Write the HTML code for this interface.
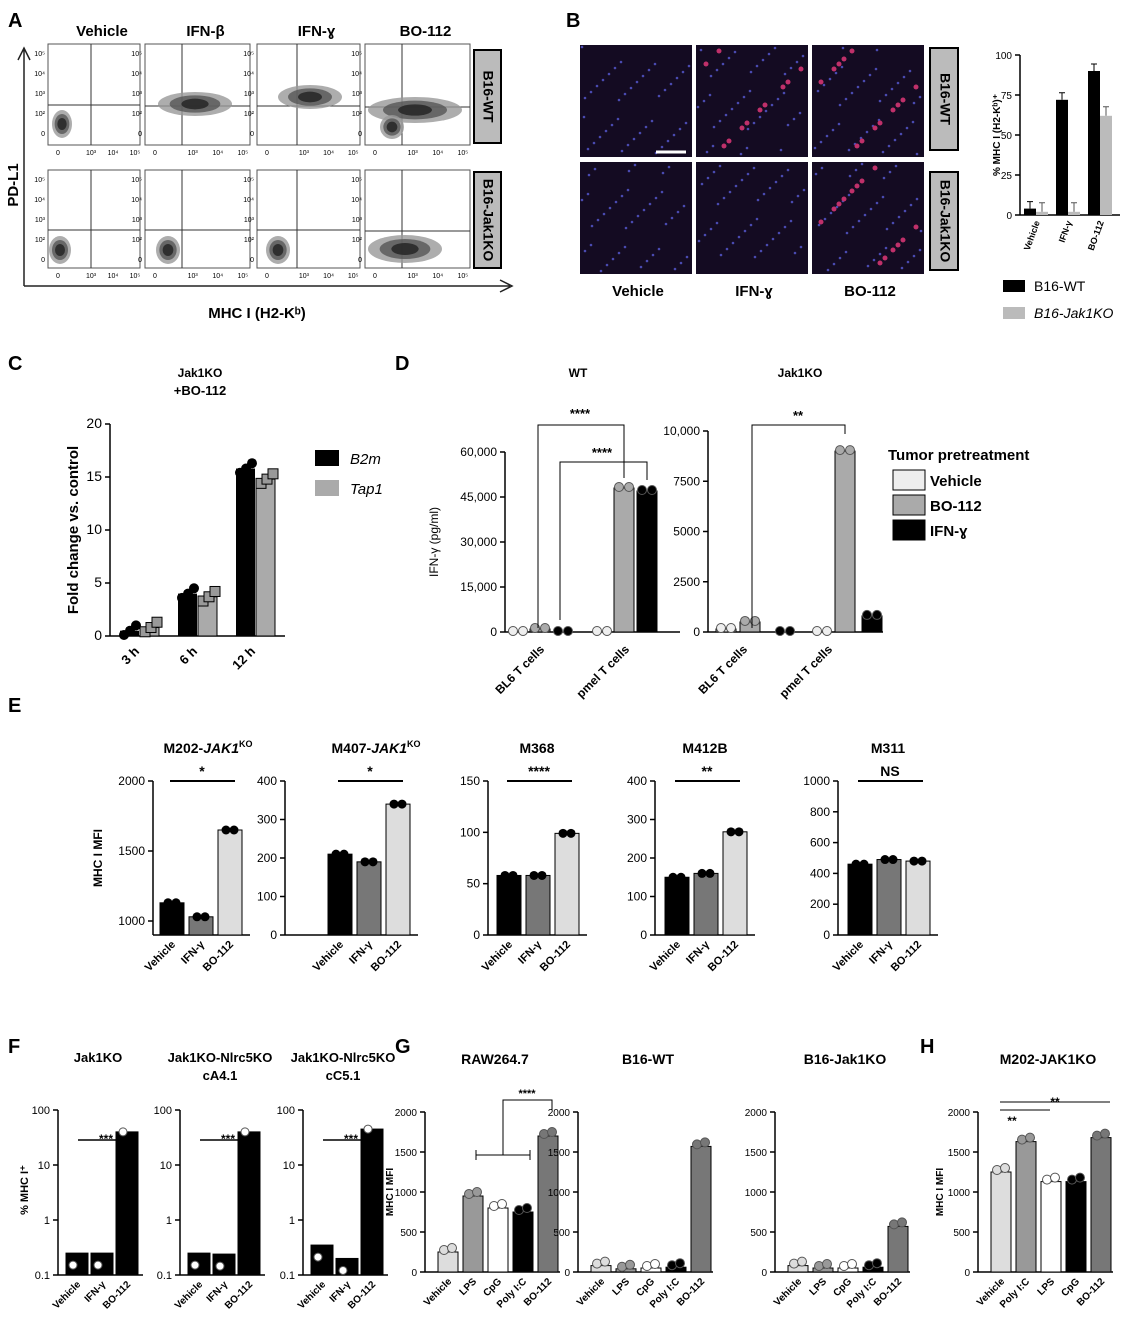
<!DOCTYPE html>
<html><head><meta charset="utf-8"><style>
body{margin:0;background:#fff;}
svg{display:block;font-family:"Liberation Sans",Arial,sans-serif;}
text{font-family:"Liberation Sans",Arial,sans-serif;}
</style></head><body>
<svg id="fig" width="1134" height="1331" viewBox="0 0 1134 1331" xmlns="http://www.w3.org/2000/svg">
<g id="static" font-weight="bold">
<text x="8" y="27" font-size="20">A</text>
<text x="566" y="27" font-size="20">B</text>
<text x="8" y="370" font-size="20">C</text>
<text x="395" y="370" font-size="20">D</text>
<text x="8" y="712" font-size="20">E</text>
<text x="8" y="1053" font-size="20">F</text>
<text x="395" y="1053" font-size="20">G</text>
<text x="920" y="1053" font-size="20">H</text>
</g>
<g id="dyn"></g>
</svg>
<script>
// ---------- data ----------
const flowCols=["Vehicle","IFN-β","IFN-ɣ","BO-112"];
const bImgCols=["Vehicle","IFN-ɣ","BO-112"];
const bCats=["Vehicle","IFN-γ","BO-112"];
const bWT=[4,72,90];
const bKO=[2,2,62];
const cCats=["3 h","6 h","12 h"];
const cB2m=[0.5,4.0,15.8];
const cTap1=[0.8,3.7,14.8];
const cTicks=[0,5,10,15,20];
const dWTVals=[0,1000,0,0,48000,47000];
const dKOVals=[150,500,0,0,9000,800];
const dWTTicks=[0,15000,30000,45000,60000];
const dWTTickLabels=["0","15,000","30,000","45,000","60,000"];
const dKOTicks=[0,2500,5000,7500,10000];
const dKOTickLabels=["0","2500","5000","7500","10,000"];
const eTitles=[["M202-","JAK1","KO"],["M407-","JAK1","KO"],["M368","",""],["M412B","",""],["M311","",""]];
const eVals1=[1130,1030,1650];
const eVals2=[210,190,340];
const eVals3=[58,58,99];
const eVals4=[150,160,268];
const eVals5=[460,490,480];
const eSig=["*","*","****","**","NS"];
const fVals1=[0.25,0.25,40];
const fVals2=[0.25,0.24,40];
const fVals3=[0.35,0.2,45];
const gCats=["Vehicle","LPS","CpG","Poly I:C","BO-112"];
const gVals1=[250,950,800,750,1700];
const gVals2=[80,40,50,60,1570];
const gVals3=[80,50,50,60,570];
const hCats=["Vehicle","Poly I:C","LPS","CpG","BO-112"];
const hVals=[1250,1630,1130,1130,1680];

const NS="http://www.w3.org/2000/svg";
const root=document.getElementById('dyn');
function el(tag,attrs,parent){const e=document.createElementNS(NS,tag);for(const k in attrs)e.setAttribute(k,attrs[k]);(parent||root).appendChild(e);return e;}
function txt(x,y,s,size,anchor,weight,rot,parent){const t=el('text',{x:x,y:y,'font-size':size,'text-anchor':anchor||'middle','font-weight':weight||'normal'},parent);if(rot)t.setAttribute('transform','rotate('+rot+' '+x+' '+y+')');t.textContent=s;return t;}

// ---------- Panel A ----------
const fx=[48,145,257,365],fw=[92,105,103,105],fy=[44,170],fh=[101,98];
const gates=[[[43,105],[37,106],[40,106],[37,107]],[[43,230],[37,230],[40,230],[37,231]]];
const blobs=[[[[62,124,8,12]],[[195,104,35,10]],[[310,97,30,10]],[[415,110,45,11],[392,127,10,10]]],[[[60,250,9,12]],[[168,250,10,12]],[[278,250,10,12]],[[405,249,35,12]]]];
for(let r=0;r<2;r++)for(let c=0;c<4;c++){
  const g=el('g',{});
  
  
  el('rect',{x:fx[c],y:fy[r],width:fw[c],height:fh[r],fill:'#fff',stroke:'#555','stroke-width':1},g);
  const gx=fx[c]+gates[r][c][0];
  el('line',{x1:gx,y1:fy[r],x2:gx,y2:fy[r]+fh[r],stroke:'#333'},g);
  el('line',{x1:fx[c],y1:gates[r][c][1],x2:fx[c]+fw[c],y2:gates[r][c][1],stroke:'#333'},g);
  blobs[r][c].forEach(b=>{for(let k=3;k>=1;k--)el('ellipse',{cx:b[0],cy:b[1],rx:b[2]*k/3+2,ry:b[3]*k/3+2,fill:['#222','#555','#999'][k-1],opacity:0.8},g);});
  ['10⁵','10⁴','10³','10²','0'].forEach((s,i)=>txt(fx[c]-3,fy[r]+12+i*20,s,7,'end','normal',0,g));
  ['0','10³','10⁴','10⁵'].forEach((s,i)=>txt(fx[c]+10+[0,33,55,77][i]*fw[c]/92,fy[r]+fh[r]+10,s,7,'middle','normal',0,g));
}
flowCols.forEach((s,i)=>{const t=txt(fx[i]+fw[i]/2+8,36,s,15,'middle','bold');});
[['B16-WT',50,143],['B16-Jak1KO',172,268]].forEach(a=>{el('rect',{x:474,y:a[1],width:27,height:a[2]-a[1],fill:'#bbb',stroke:'#000','stroke-width':2});const t=txt(487,(a[1]+a[2])/2,a[0],14,'middle','bold',90);t.setAttribute('dominant-baseline','middle');});
el('path',{d:'M24 286 V50 M18 60 L24 48 L30 60 M24 286 H510 M500 280 L512 286 L500 292',stroke:'#222',fill:'none','stroke-width':1.5});
txt(18,185,'PD-L1',15,'middle','bold',-90);
txt(257,318,'MHC I (H2-Kᵇ)',15,'middle','bold');

// ---------- Panel B images ----------
const bx=[580,696,812],by=[45,162];
const redness=[[0,0.6,0.7],[0,0,0.8]];
for(let r=0;r<2;r++)for(let c=0;c<3;c++){
  const g=el('g',{});
  
  
  el('rect',{x:bx[c],y:by[r],width:112,height:112,fill:'#140b22'},g);
  for(let k=0;k<40;k++){const px=bx[c]+((k*37+c*13+r*7)%108)+2,py=by[r]+((k*53+c*29+r*11)%108)+2;el('circle',{cx:px,cy:py,r:1.3,fill:'#4a4ab0'},g);}
  const n=Math.round(redness[r][c]*18);
  for(let k=0;k<n;k++){const px=bx[c]+((k*41+c*17)%100)+6,py=by[r]+((k*59+r*23)%100)+6;el('circle',{cx:px,cy:py,r:2.5,fill:'#c0306a'},g);}
}
el('line',{x1:656,y1:152,x2:686,y2:152,stroke:'#fff','stroke-width':3});
[['B16-WT',48,150],['B16-Jak1KO',172,270]].forEach(a=>{el('rect',{x:930,y:a[1],width:28,height:a[2]-a[1],fill:'#bbb',stroke:'#000','stroke-width':2});const t=txt(944,(a[1]+a[2])/2,a[0],14,'middle','bold',90);t.setAttribute('dominant-baseline','middle');});
bImgCols.forEach((s,i)=>txt(bx[i]+58,296,s,15,'middle','bold'));

function yAxis(x,yTop,yBot,min,max,ticks,labels,fs,log){
  const Y=v=>log? yBot-(Math.log10(v)-Math.log10(min))/(Math.log10(max)-Math.log10(min))*(yBot-yTop) : yBot-(v-min)/(max-min)*(yBot-yTop);
  el('line',{x1:x,y1:yTop,x2:x,y2:yBot,stroke:'#000','stroke-width':1.5});
  ticks.forEach((t,i)=>{const y=Y(t);el('line',{x1:x-5,y1:y,x2:x,y2:y,stroke:'#000','stroke-width':1.5});const lt=txt(x-8,y+4,labels[i],fs||12,'end');});
  return Y;
}
function bars(x0,w,step,vals,Y,base,fills,xAxisEnd,cats,catFs){
  vals.forEach((v,i)=>{const x=x0+i*step;const r=el('rect',{x:x,y:Y(v),width:w,height:Math.max(0,base-Y(v)),fill:fills[i%fills.length],stroke:'#000','stroke-width':1});
    
    
    if(cats){const t=txt(x+w/2+4,base+10,cats[i],catFs||11,'end','bold',-45);}
  });
}

// ---------- Panel B bar chart ----------
{const Y=yAxis(1020,55,215,0,100,[0,25,50,75,100],['0','25','50','75','100'],10);
 el('line',{x1:1020,y1:215,x2:1120,y2:215,stroke:'#000','stroke-width':1.5});
 bCats.forEach((c,i)=>{const x=1024+i*32;
  const a=el('rect',{x:x,y:Y(bWT[i]),width:12,height:215-Y(bWT[i]),fill:'#000'});
  
  
  const b=el('rect',{x:x+12,y:Y(bKO[i]),width:12,height:215-Y(bKO[i]),fill:'#bbb'});
  
  
  el('path',{d:'M'+(x+6)+' '+Y(bWT[i])+' v-7 m-3 0 h6',stroke:'#000',fill:'none'});
  el('path',{d:'M'+(x+18)+' '+Y(bKO[i])+' v-9 m-3 0 h6',stroke:'#555',fill:'none'});
  txt(x+16,222,c,9,'end','bold',-70);});
 txt(1000,135,'% MHC I (H2-Kᵇ)⁺',10,'middle','bold',-90);
 el('rect',{x:1003,y:280,width:22,height:12,fill:'#000'});txt(1034,291,'B16-WT',14,'start');
 el('rect',{x:1003,y:307,width:22,height:12,fill:'#bbb'});txt(1034,318,'B16-Jak1KO',14,'start').setAttribute('font-style','italic');
}

// ---------- Panel C ----------
{const Y=yAxis(110,424,636,0,20,cTicks,cTicks.map(String),14);
 el('line',{x1:110,y1:636,x2:285,y2:636,stroke:'#000','stroke-width':1.5});
 cCats.forEach((c,i)=>{const x=120+i*58;
  const a=el('rect',{x:x,y:Y(cB2m[i]),width:19,height:636-Y(cB2m[i]),fill:'#000'});
  
  
  const b=el('rect',{x:x+20,y:Y(cTap1[i]),width:19,height:636-Y(cTap1[i]),fill:'#aaa',stroke:'#000'});
  
  
  [-0.4,0,0.5].forEach((d,k)=>{el('circle',{cx:x+4+k*6,cy:Y(cB2m[i]+d),r:5,fill:'#000'});el('rect',{x:x+20+k*6,y:Y(cTap1[i]+d)-5,width:10,height:10,fill:'#999',stroke:'#000'});});
  txt(x+20,652,c,13,'end','bold',-45);});
 txt(78,530,'Fold change vs. control',15,'middle','bold',-90);
 txt(200,377,'Jak1KO',12,'middle','bold');txt(200,395,'+BO-112',13,'middle','bold');
 el('rect',{x:315,y:450,width:24,height:16,fill:'#000'});txt(350,464,'B2m',15,'start').setAttribute('font-style','italic');
 el('rect',{x:315,y:480,width:24,height:16,fill:'#aaa'});txt(350,494,'Tap1',15,'start').setAttribute('font-style','italic');
}

// ---------- Panel D ----------
function dChart(x,yTop,max,ticks,labels,vals,xs,title,tx){
  const Y=yAxis(x,yTop,632,0,max,ticks,labels,12);
  el('line',{x1:x,y1:632,x2:x+175,y2:632,stroke:'#000','stroke-width':1.5});
  const fills=['#eee','#aaa','#000'];
  vals.forEach((v,i)=>{const f=fills[i%3];const r=el('rect',{x:xs[i],y:Y(v),width:20,height:632-Y(v),fill:f,stroke:'#000'});
    
    
    el('circle',{cx:xs[i]+5,cy:Y(v)-1,r:4.5,fill:f,stroke:'#555'});el('circle',{cx:xs[i]+15,cy:Y(v)-1,r:4.5,fill:f,stroke:'#555'});});
  txt(x+40,650,'BL6 T cells',12,'end','bold',-45);txt(x+125,650,'pmel T cells',12,'end','bold',-45);
  txt(tx,377,title,12,'middle','bold');
  return Y;
}
{dChart(505,452,60000,dWTTicks,dWTTickLabels,dWTVals,[508,530,553,592,614,637],'WT',578);
 el('path',{d:'M538 628 V425 H624 V478 M560 620 V462 H647 V480',stroke:'#000',fill:'none'});
 txt(580,418,'****',13,'middle','bold');txt(602,457,'****',13,'middle','bold');
 txt(438,542,'IFN-γ (pg/ml)',12,'middle','normal',-90);
 dChart(708,431,10000,dKOTicks,dKOTickLabels,dKOVals,[716,740,775,812,835,862],'Jak1KO',800);
 el('path',{d:'M752 628 V425 H845 V434',stroke:'#000',fill:'none'});txt(798,420,'**',13,'middle','bold');
 txt(888,460,'Tumor pretreatment',15,'start','bold');
 [['Vehicle','#eee'],['BO-112','#aaa'],['IFN-ɣ','#000']].forEach((a,i)=>{el('rect',{x:893,y:470+i*25,width:32,height:20,fill:a[1],stroke:'#000'});txt(930,486+i*25,a[0],15,'start','bold');});
}

// ---------- Panel E ----------
const eCfg=[[153,900,2000,[1000,1500,2000],eVals1],[285,0,400,[0,100,200,300,400],eVals2],[488,0,150,[0,50,100,150],eVals3],[655,0,400,[0,100,200,300,400],eVals4],[838,0,1000,[0,200,400,600,800,1000],eVals5]];
const eBx=[160,328,497,665,848];
eCfg.forEach((c,k)=>{
  const Y=yAxis(c[0],781,935,c[1],c[2],c[3],c[3].map(String),12);
  el('line',{x1:c[0],y1:935,x2:eBx[k]+90,y2:935,stroke:'#000','stroke-width':1.5});
  bars(eBx[k],24,29,c[4],Y,935,['#000','#777','#ddd'],0,bCats,11);
  c[4].forEach((v,i)=>{el('circle',{cx:eBx[k]+8+i*29,cy:Y(v),r:4.5,fill:'#000'});el('circle',{cx:eBx[k]+16+i*29,cy:Y(v),r:4.5,fill:'#000'});});
  el('line',{x1:eBx[k]+10,y1:781,x2:eBx[k]+75,y2:781,stroke:'#000','stroke-width':2});
  txt(eBx[k]+42,776,eSig[k],14,'middle','bold');
  const t=el('text',{x:eBx[k]+(k<2?48:40),y:753,'font-size':14,'text-anchor':'middle','font-weight':'bold'});
  
  
  const s1=el('tspan',{},t);s1.textContent=eTitles[k][0];
  if(eTitles[k][1]){const s2=el('tspan',{'font-style':'italic'},t);s2.textContent=eTitles[k][1];const s3=el('tspan',{'font-size':9,dy:-6},t);s3.textContent=eTitles[k][2];}
});
txt(102,858,'MHC I MFI',12,'middle','bold',-90);

// ---------- Panel F ----------
const fCfg=[[58,fVals1],[180,fVals2],[303,fVals3]];
const fTitles=[['Jak1KO',''],['Jak1KO-Nlrc5KO','cA4.1'],['Jak1KO-Nlrc5KO','cC5.1']];
fCfg.forEach((c,k)=>{
  const Y=yAxis(c[0],1110,1275,0.1,100,[0.1,1,10,100],['0.1','1','10','100'],11,true);
  el('line',{x1:c[0],y1:1275,x2:c[0]+85,y2:1275,stroke:'#000','stroke-width':1.5});
  bars(c[0]+8,22,25,c[1],Y,1275,['#000'],0,["Vehicle","IFN-γ","BO-112"],10);
  c[1].forEach((v,i)=>{el('circle',{cx:c[0]+15+i*25,cy:i<2?Y(v)+12:Y(v),r:4,fill:i<2?'#fff':'#fff',stroke:'#555'});});
  el('line',{x1:c[0]+20,y1:1140,x2:c[0]+75,y2:1140,stroke:'#000','stroke-width':1.5});txt(c[0]+48,1143,'***',12,'middle','bold');
  txt(c[0]+40,1062,fTitles[k][0],13,'middle','bold');if(fTitles[k][1])txt(c[0]+40,1080,fTitles[k][1],13,'middle','bold');
});
txt(28,1190,'% MHC I⁺',11,'middle','bold',-90);

// ---------- Panel G & H ----------
const gCfg=[[425,gVals1,'RAW264.7',gCats],[578,gVals2,'B16-WT',gCats],[775,gVals3,'B16-Jak1KO',gCats],[978,hVals,'M202-JAK1KO',hCats]];
gCfg.forEach((c,k)=>{
  const Y=yAxis(c[0],1112,1272,0,2000,[0,500,1000,1500,2000],['0','500','1000','1500','2000'],10);
  el('line',{x1:c[0],y1:1272,x2:c[0]+135,y2:1272,stroke:'#000','stroke-width':1.5});
  const fills=['#ddd','#999','#fff','#000','#777'];
  bars(c[0]+13,20,25,c[1],Y,1272,fills,0,c[3],10);
  c[1].forEach((v,i)=>{const cx=c[0]+13+i*25;el('circle',{cx:cx+6,cy:Y(v)-2,r:4.5,fill:fills[i],stroke:'#555'});el('circle',{cx:cx+14,cy:Y(v)-4,r:4.5,fill:fills[i],stroke:'#555'});});
  txt(c[0]+70,1064,c[2],14,'middle','bold');
});
txt(393,1192,'MHC I MFI',10,'middle','bold',-90);txt(943,1192,'MHC I MFI',10,'middle','bold',-90);
el('path',{d:'M476 1155 H530 M476 1150 V1160 M530 1150 V1160 M503 1155 V1100 H552 V1110',stroke:'#000',fill:'none'});
txt(527,1097,'****',11,'middle','bold');
el('path',{d:'M1000 1110 H1050 M1000 1102 H1110',stroke:'#000',fill:'none'});
txt(1012,1125,'**',12,'middle','bold');txt(1055,1106,'**',12,'middle','bold');
</script>
</body></html>
